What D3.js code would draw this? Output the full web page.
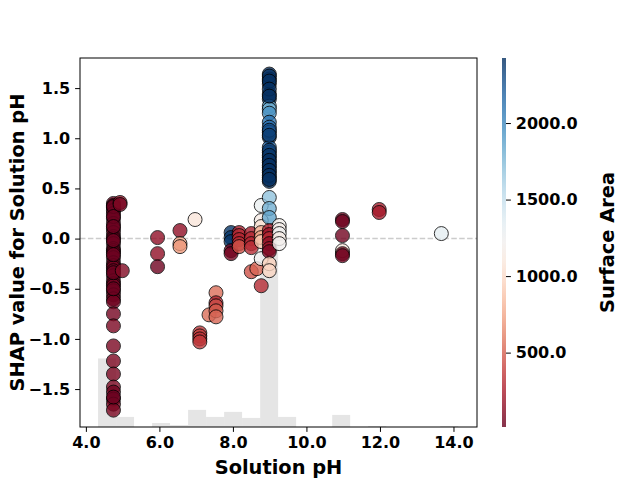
<!DOCTYPE html>
<html>
<head>
<meta charset="utf-8">
<script src="https://cdn.jsdelivr.net/npm/d3@7"></script>
<style>
  body { margin: 0; background: #fff; }
  text { font-family: "DejaVu Sans", sans-serif; font-weight: bold; }
</style>
</head>
<body>
<div id="chart"></div>
<script>
// Points: solution pH, SHAP value, surface area (colour)
const phValues = [
  4.75, 4.75, 4.75, 4.75, 4.75, 4.75, 4.75, 4.75, 4.75, 4.75,
  4.75, 4.75, 4.75, 4.75, 4.75, 4.75, 4.75, 4.75, 4.75, 4.75,
  4.75, 4.75, 4.75, 4.75, 4.75, 4.75, 4.75, 4.75, 4.75, 4.75,
  4.75, 4.75, 4.75, 4.75, 4.75, 4.75, 4.75, 4.75,
  4.75, 4.75, 4.75, 4.75, 4.75, 4.75, 4.75, 4.75,
  4.93, 4.93, 4.99,
  5.95, 5.95, 5.95,
  6.56, 6.56, 6.56,
  6.97,
  7.10, 7.10, 7.10, 7.10,
  7.35,
  7.54, 7.54, 7.54, 7.54, 7.54,
  7.95, 7.95, 7.95, 7.95, 7.95,
  8.17, 8.17, 8.17, 8.17, 8.17,
  8.50, 8.50, 8.50, 8.50, 8.50, 8.65,
  8.77, 8.77, 8.77, 8.77, 8.77, 8.77, 8.77, 8.77,
  8.99, 8.99, 8.99, 8.99, 8.99, 8.99, 8.99, 8.99, 8.99, 8.99, 8.99,
  8.99, 8.99, 8.99, 8.99, 8.99, 8.99, 8.99, 8.99, 8.99, 8.99,
  8.99, 8.99, 8.99, 8.99, 8.99, 8.99, 8.99, 8.99, 8.99, 8.99,
  8.99, 8.99, 8.99, 8.99, 8.99, 8.99, 8.99, 8.99, 8.99, 8.99,
  8.99, 8.99, 8.99,
  9.26, 9.26, 9.26, 9.26, 9.26,
  10.98, 10.98, 10.98, 10.98, 10.98, 10.98,
  11.98, 11.98,
  13.67
];
const shapValues = [
  0.35, 0.33, 0.31, 0.28, 0.25, 0.20, 0.15, 0.10, 0.06, 0.02,
  0.00, -0.05, -0.10, -0.12, -0.14, -0.19, -0.24, -0.27, -0.29, -0.32,
  -0.37, -0.42, -0.45, -0.47, -0.52, -0.56, -0.60, -0.63, -0.75, -0.87,
  -1.07, -1.22, -1.35, -1.48, -1.53, -1.60, -1.65, -1.71,
  0.32, 0.22, 0.12, -0.02, -0.16, -0.34, -0.50, -1.58,
  0.36, 0.34, -0.32,
  0.01, -0.15, -0.28,
  0.08, -0.05, -0.08,
  0.19,
  -0.94, -0.97, -1.00, -1.03,
  -0.76,
  -0.54, -0.64, -0.67, -0.72, -0.78,
  0.06, 0.01, -0.03, -0.12, -0.15,
  0.06, 0.03, -0.01, -0.05, -0.08,
  0.05, 0.00, -0.05, -0.09, -0.33, -0.30,
  0.33, 0.18, 0.12, 0.06, 0.01, -0.03, -0.20, -0.47,
  0.41, 0.30, 0.21, 0.08, 0.04, 0.00, -0.05, -0.10, -0.13, -0.25, -0.32,
  1.64, 1.59, 1.54, 1.44, 1.39, 1.32, 1.29, 1.25, 1.16, 1.11,
  1.06, 1.01, 0.91, 0.86, 0.81, 0.76, 0.71, 0.66, 0.61, 0.57,
  1.62, 1.57, 1.49, 1.42, 1.08, 1.03, 0.88, 0.83, 0.78, 0.73,
  0.68, 0.63, 0.59,
  0.13, 0.09, 0.05, 0.00, -0.05,
  0.19, 0.17, 0.03, -0.12, -0.15, -0.17,
  0.29, 0.26,
  0.05
];
const surfaceArea = [
  40, 60, 40, 50, 40, 40, 60, 40, 50, 40,
  40, 50, 40, 60, 40, 50, 40, 60, 40, 50,
  40, 60, 40, 50, 40, 40, 50, 40, 60, 80,
  80, 90, 80, 80, 40, 40, 90, 80,
  30, 30, 30, 30, 30, 30, 30, 30,
  200, 60, 100,
  150, 150, 40,
  150, 750, 700,
  1080,
  350, 380, 330, 360,
  550,
  550, 280, 420, 480, 520,
  2400, 2380, 2400, 40, 60,
  250, 300, 280, 300, 450,
  250, 300, 280, 320, 450, 520,
  1280, 1150, 1050, 800, 750, 900, 1250, 300,
  1700, 1800, 1850, 250, 200, 300, 150, 200, 80, 950, 980,
  2420, 2420, 2420, 2420, 2400, 1850, 1800, 1950, 2100, 2150,
  2100, 2400, 2200, 2300, 2350, 2400, 2420, 2420, 2420, 2400,
  2420, 2420, 2420, 2420, 2300, 2350, 2350, 2400, 2420, 2420,
  2420, 2420, 2420,
  1200, 1180, 1250, 1150, 1220,
  60, 40, 50, 1100, 100, 50,
  250, 230,
  1320
];

// Background histogram of pH values
const histStart = 4.33;
const histWidth = 0.49;
const histCounts = [68, 10, 0, 4, 2, 17, 10, 15, 9, 207, 10, 0, 0, 12, 0, 1, 0, 0, 0, 1];

const xTicks = [4, 6, 8, 10, 12, 14];
const yTicks = [-1.5, -1.0, -0.5, 0.0, 0.5, 1.0, 1.5];
const colorTicks = [500, 1000, 1500, 2000];

const width = 640;
const height = 480;
const plot = { left: 80, right: 477, top: 58, bottom: 427 };

const svg = d3.select('#chart')
  .append('svg')
  .attr('width', width)
  .attr('height', height);

const x = d3.scaleLinear().domain([3.84, 14.64]).range([plot.left, plot.right]);
const y = d3.scaleLinear().domain([-1.878, 1.80]).range([plot.bottom, plot.top]);
const histY = d3.scaleLinear().domain([0, d3.sum(histCounts)]).range([plot.bottom, plot.top]);
const colorScale = d3.scaleSequential(d3.interpolateRdBu).domain([14, 2425]);

// Histogram bars
svg.append('g')
  .selectAll('rect')
  .data(histCounts)
  .join('rect')
  .attr('x', (d, i) => x(histStart + i * histWidth))
  .attr('width', (d, i) => x(histStart + (i + 1) * histWidth) - x(histStart + i * histWidth))
  .attr('y', (d) => histY(d))
  .attr('height', (d) => plot.bottom - histY(d))
  .attr('fill', '#000')
  .attr('fill-opacity', 0.1);

// Zero line
svg.append('line')
  .attr('x1', plot.left)
  .attr('x2', plot.right)
  .attr('y1', y(0))
  .attr('y2', y(0))
  .attr('stroke', '#cccccc')
  .attr('stroke-width', 1.5)
  .attr('stroke-dasharray', '5.5,2.4');

// Points
const points = phValues.map((ph, i) => ({ ph: ph, shap: shapValues[i], area: surfaceArea[i] }));
svg.append('g')
  .selectAll('circle')
  .data(points)
  .join('circle')
  .attr('cx', (d) => x(d.ph))
  .attr('cy', (d) => y(d.shap))
  .attr('r', 7)
  .attr('fill', (d) => colorScale(d.area))
  .attr('stroke', '#000')
  .attr('stroke-width', 1)
  .attr('opacity', 0.8);

// Frame
svg.append('rect')
  .attr('x', plot.left)
  .attr('y', plot.top)
  .attr('width', plot.right - plot.left)
  .attr('height', plot.bottom - plot.top)
  .attr('fill', 'none')
  .attr('stroke', '#000')
  .attr('stroke-width', 1);

// Axes
const xAxis = svg.append('g')
  .attr('transform', `translate(0,${plot.bottom})`)
  .call(d3.axisBottom(x).tickValues(xTicks).tickFormat(d3.format('.1f'))
    .tickSize(4.9).tickPadding(4.9).tickSizeOuter(0));
const yAxis = svg.append('g')
  .attr('transform', `translate(${plot.left},0)`)
  .call(d3.axisLeft(y).tickValues(yTicks).tickFormat(d3.format('.1f'))
    .tickSize(4.9).tickPadding(4.9).tickSizeOuter(0));
[xAxis, yAxis].forEach((g) => {
  g.select('.domain').remove();
  g.selectAll('text').attr('font-size', 16).attr('fill', '#000')
    .style('font-family', '"DejaVu Sans", sans-serif').style('font-weight', 'bold');
  g.selectAll('line').attr('stroke', '#000');
});

svg.append('text')
  .attr('x', (plot.left + plot.right) / 2)
  .attr('y', 474)
  .attr('text-anchor', 'middle')
  .attr('font-size', 19.4)
  .text('Solution pH');

svg.append('text')
  .attr('transform', `translate(24,${(plot.top + plot.bottom) / 2}) rotate(-90)`)
  .attr('text-anchor', 'middle')
  .attr('font-size', 19.4)
  .text('SHAP value for Solution pH');

// Colorbar
const cb = { x: 502, w: 4 };
const cbScale = d3.scaleLinear().domain([14, 2425]).range([plot.bottom, plot.top]);
const defs = svg.append('defs');
const grad = defs.append('linearGradient')
  .attr('id', 'cbGrad')
  .attr('x1', 0).attr('y1', 1).attr('x2', 0).attr('y2', 0);
grad.selectAll('stop')
  .data(d3.range(0, 1.0001, 0.05))
  .join('stop')
  .attr('offset', (d) => d)
  .attr('stop-color', (d) => d3.interpolateRdBu(d));

svg.append('rect')
  .attr('x', cb.x)
  .attr('y', plot.top)
  .attr('width', cb.w)
  .attr('height', plot.bottom - plot.top)
  .attr('fill', 'url(#cbGrad)')
  .attr('opacity', 0.8);

const cAxis = svg.append('g')
  .attr('transform', `translate(${cb.x + cb.w},0)`)
  .call(d3.axisRight(cbScale).tickValues(colorTicks).tickFormat(d3.format('.1f'))
    .tickSize(4.9).tickPadding(4.9).tickSizeOuter(0));
cAxis.select('.domain').remove();
cAxis.selectAll('text').attr('font-size', 16).attr('fill', '#000')
  .style('font-family', '"DejaVu Sans", sans-serif').style('font-weight', 'bold');
cAxis.selectAll('line').attr('stroke', '#000');

svg.append('text')
  .attr('transform', `translate(614,${(plot.top + plot.bottom) / 2}) rotate(-90)`)
  .attr('text-anchor', 'middle')
  .attr('font-size', 19.4)
  .text('Surface Area');
</script>
</body>
</html>
